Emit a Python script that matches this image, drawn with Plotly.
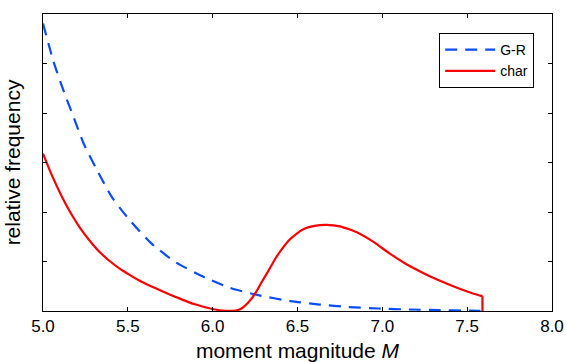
import plotly.graph_objects as go

# G-R (blue dashed) readings
gr_m = [5.00, 5.06, 5.12, 5.18, 5.24, 5.31, 5.41, 5.52, 5.64, 5.78, 5.94,
        6.10, 6.28, 6.46, 6.63, 6.80, 6.98, 7.16, 7.34, 7.52, 7.59]
gr_v = [5.81, 5.06, 4.46, 3.92, 3.38, 2.90, 2.28, 1.80, 1.36, 0.99, 0.70,
        0.47, 0.31, 0.20, 0.13, 0.08, 0.05, 0.03, 0.017, 0.006, 0.0]

# characteristic (red solid) readings
ch_m = [5.00, 5.05, 5.11, 5.16, 5.22, 5.28, 5.34, 5.40, 5.45, 5.51, 5.57,
        5.63, 5.69, 5.75, 5.80, 5.85, 5.90, 5.95, 6.00, 6.04, 6.08, 6.12,
        6.15, 6.17, 6.21, 6.25, 6.29, 6.33, 6.37, 6.41, 6.45, 6.49, 6.54,
        6.60, 6.67, 6.75, 6.85, 6.95, 7.04, 7.14, 7.24, 7.34, 7.44, 7.53,
        7.59, 7.59]
ch_v = [3.18, 2.76, 2.32, 2.00, 1.67, 1.40, 1.17, 0.99, 0.86, 0.73, 0.61,
        0.51, 0.42, 0.33, 0.26, 0.19, 0.13, 0.08, 0.04, 0.015, 0.003, 0.003,
        0.02, 0.05, 0.17, 0.35, 0.59, 0.82, 1.06, 1.26, 1.43, 1.55, 1.66,
        1.72, 1.74, 1.71, 1.59, 1.39, 1.17, 0.95, 0.77, 0.61, 0.47, 0.36,
        0.30, 0.0]

x_ticks = [5.0, 5.5, 6.0, 6.5, 7.0, 7.5, 8.0]
x_ticklabels = ["5.0", "5.5", "6.0", "6.5", "7.0", "7.5", "8.0"]
y_ticks = [0, 1, 2, 3, 4, 5, 6]

FONT = "Liberation Sans, Arial, Helvetica, sans-serif"
RED = "#ff0000"
BLUE = "#0a4cff"

fig = go.Figure()
fig.add_trace(go.Scatter(x=gr_m, y=gr_v, mode="lines", name="G-R",
                         line=dict(color=BLUE, width=2.2, dash="12px,8px",
                                   shape="spline", smoothing=0.6)))
fig.add_trace(go.Scatter(x=ch_m[:-1], y=ch_v[:-1], mode="lines", name="char",
                         legendgroup="char",
                         line=dict(color=RED, width=2.2,
                                   shape="spline", smoothing=0.5)))
# vertical drop at the upper magnitude bound
fig.add_trace(go.Scatter(x=ch_m[-2:], y=ch_v[-2:], mode="lines", name="char",
                         legendgroup="char", showlegend=False,
                         line=dict(color=RED, width=2.2)))

axis_common = dict(showline=True, linecolor="black", linewidth=1, mirror="ticks",
                   ticks="inside", ticklen=4, tickcolor="black", tickwidth=1,
                   showgrid=False, zeroline=False, automargin=False)

fig.update_layout(
    width=566, height=362,
    margin=dict(l=43, r=14, t=14, b=51),
    paper_bgcolor="white", plot_bgcolor="white",
    font=dict(family=FONT, color="black", size=14),
    xaxis=dict(range=[5.0, 8.0], tickvals=x_ticks, ticktext=x_ticklabels,
               tickfont=dict(size=17),
               title=dict(text="moment magnitude <i>M</i>", font=dict(size=21)),
               **axis_common),
    yaxis=dict(range=[0, 6], tickvals=y_ticks, showticklabels=False,
               title=dict(text="relative frequency", font=dict(size=21)),
               **axis_common),
    legend=dict(x=0.965, y=0.936, xanchor="right", yanchor="top",
                bordercolor="black", borderwidth=1, bgcolor="white",
                font=dict(size=14), tracegroupgap=0, itemwidth=50),
    showlegend=True,
)

fig.write_html("out.html", config={"displayModeBar": False},
               post_script="document.body.style.margin='0';")
